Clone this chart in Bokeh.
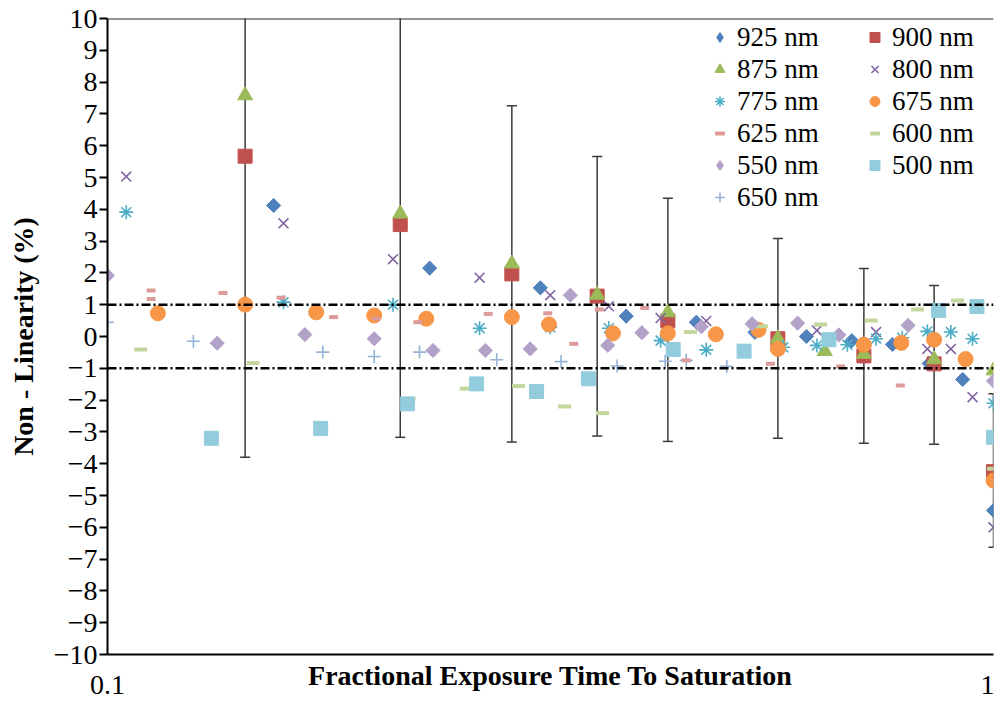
import numpy as np
from bokeh.plotting import figure
from bokeh.models import (Range1d, FixedTicker, Span, Legend, LegendItem,
                          CustomJSTickFormatter)
from bokeh.embed import file_html
from bokeh.resources import INLINE

# ---------------- data ----------------
y_ticks = list(range(-10, 11))
x_ticks = [0.1, 1.0]
limit_levels = [1.0, -1.0]

x925 = [0.154, 0.231, 0.308, 0.385, 0.462, 0.538, 0.615, 0.692, 0.769, 0.846, 0.923, 1.0]
y925 = [4.12, 2.15, 1.53, 0.64, 0.45, 0.13, 0.0, -0.13, -0.25, -0.85, -1.35, -5.47]

x900 = [0.143, 0.214, 0.286, 0.357, 0.429, 0.571, 0.714, 0.857, 1.0]
y900 = [5.67, 3.52, 1.97, 1.27, 0.49, -0.07, -0.61, -0.86, -4.25]
err900_upper = [15.2, 10.2, 7.26, 5.66, 4.35, 3.08, 2.14, 1.60, -1.80]
err900_lower = [-3.80, -3.17, -3.32, -3.13, -3.30, -3.20, -3.36, -3.39, -6.63]

x875 = [0.143, 0.214, 0.286, 0.357, 0.429, 0.571, 0.645, 0.714, 0.857, 1.0]
y875 = [7.58, 3.86, 2.29, 1.31, 0.76, -0.06, -0.46, -0.55, -0.72, -1.07]

x800 = [0.105, 0.158, 0.210, 0.263, 0.316, 0.368, 0.421, 0.474, 0.632, 0.737, 0.842, 0.895, 0.947, 1.0]
y800 = [5.03, 3.56, 2.43, 1.85, 1.30, 0.95, 0.58, 0.49, 0.19, 0.14, -0.39, -0.39, -1.91, -6.00]

x775 = [0.105, 0.158, 0.210, 0.263, 0.316, 0.368, 0.421, 0.474, 0.579, 0.632, 0.684, 0.737,
        0.789, 0.842, 0.895, 0.947, 1.0]
y775 = [3.91, 1.08, 1.00, 0.26, 0.29, 0.26, -0.13, -0.42, -0.34, -0.28, -0.26, -0.07,
        -0.04, 0.16, 0.14, -0.07, -2.10]

x675 = [0.114, 0.143, 0.172, 0.200, 0.229, 0.286, 0.315, 0.372, 0.429, 0.486, 0.543, 0.571,
        0.714, 0.787, 0.857, 0.930, 1.0]
y675 = [0.73, 1.00, 0.76, 0.66, 0.56, 0.61, 0.38, 0.10, 0.10, 0.07, 0.21, -0.39,
        -0.26, -0.20, -0.10, -0.71, -4.53]

x650 = [0.100, 0.125, 0.175, 0.200, 0.225, 0.275, 0.325, 0.376, 0.426, 0.450, 0.500]
y650 = [0.45, -0.15, -0.49, -0.63, -0.49, -0.73, -0.79, -0.93, -0.78, -0.75, -0.94]

x625 = [0.112, 0.112, 0.135, 0.157, 0.180, 0.201, 0.224, 0.269, 0.314, 0.336, 0.359, 0.404,
        0.450, 0.560, 0.672, 0.785]
y625 = [1.45, 1.18, 1.37, 1.22, 0.61, 0.56, 0.45, 0.71, 0.73, -0.23, 0.85, 0.90,
        -0.75, -0.86, -0.94, -1.54]

x600 = [0.109, 0.146, 0.219, 0.254, 0.291, 0.328, 0.362, 0.455, 0.547, 0.638, 0.728, 0.821, 0.911, 1.0]
y600 = [-0.41, -0.83, -1.96, -1.64, -1.56, -2.20, -2.41, 0.14, 0.32, 0.38, 0.50, 0.85, 1.13, -4.16]

x550 = [0.100, 0.133, 0.167, 0.200, 0.233, 0.267, 0.300, 0.333, 0.367, 0.401, 0.468, 0.534,
        0.601, 0.669, 0.801, 1.0]
y550 = [1.92, -0.21, 0.06, -0.07, -0.44, -0.44, -0.39, 1.30, -0.28, 0.12, 0.31, 0.40,
        0.42, 0.05, 0.35, -1.40]

x500 = [0.131, 0.174, 0.218, 0.261, 0.305, 0.349, 0.435, 0.523, 0.652, 0.867, 0.958, 1.0]
y500 = [-3.20, -2.89, -2.12, -1.49, -1.73, -1.33, -0.41, -0.46, -0.10, 0.82, 0.94, -3.17]

# ---------------- figure ----------------
FONT = "'Liberation Serif', 'Times New Roman', serif"

p = figure(width=994, height=703, x_axis_type="log",
           x_range=Range1d(0.1, 1.0), y_range=Range1d(-10, 10),
           output_backend="svg", toolbar_location=None,
           min_border_left=107, min_border_right=1, min_border_top=18, min_border_bottom=49,
           background_fill_color="white", border_fill_color="white")
p.outline_line_color = None
p.xgrid.visible = False
p.ygrid.visible = False

# y axis
yax = p.yaxis[0]
yax.ticker = FixedTicker(ticks=y_ticks)
yax.minor_tick_line_color = None
yax.major_tick_out = 8
yax.major_tick_in = 0
yax.major_tick_line_width = 2
yax.major_tick_line_color = "black"
yax.axis_line_width = 2
yax.axis_line_color = "black"
yax.major_label_text_font = FONT
yax.major_label_text_font_size = "28px"
yax.major_label_text_color = "black"
yax.major_label_standoff = 2
yax.axis_label = "Non - Linearity (%)"
yax.axis_label_text_font = FONT
yax.axis_label_text_font_style = "bold"
yax.axis_label_text_font_size = "28px"
yax.axis_label_text_color = "black"
yax.axis_label_standoff = 12

# x axis
xax = p.xaxis[0]
xax.ticker = FixedTicker(ticks=x_ticks, minor_ticks=[])
xax.formatter = CustomJSTickFormatter(code="return String(Number(tick.toPrecision(6)));")
xax.minor_tick_line_color = None
xax.major_tick_out = 0
xax.major_tick_in = 0
xax.axis_line_width = 2
xax.axis_line_color = "black"
xax.major_label_text_font = FONT
xax.major_label_text_font_size = "28px"
xax.major_label_text_color = "black"
xax.major_label_standoff = 21
xax.axis_label = "Fractional Exposure Time To Saturation"
xax.axis_label_text_font = FONT
xax.axis_label_text_font_style = "bold"
xax.axis_label_text_font_size = "28px"
xax.axis_label_text_color = "black"
xax.axis_label_standoff = -37

# top border
p.add_layout(Span(location=10, dimension="width", line_color="#262626", line_width=2))

# +/-1 % limit lines
for lv in limit_levels:
    p.add_layout(Span(location=lv, dimension="width", line_color="black",
                      line_width=2.5, line_dash="9 3 2 3"))

# error bars on the 900 nm series
EB = "#3a3a3a"
p.segment(x0=x900, y0=err900_lower, x1=x900, y1=err900_upper, line_color=EB, line_width=1.5)
p.scatter(x900, err900_upper, marker="dash", size=10, line_color=EB, line_width=1.5)
p.scatter(x900, err900_lower, marker="dash", size=10, line_color=EB, line_width=1.5)

c925, c900, c875, c800, c775, c675 = "#4F81BD", "#C0504D", "#9BBB59", "#8064A2", "#4BACC6", "#F79646"
c650, c625, c600, c550, c500 = "#95B3D7", "#DC9A98", "#C3D69B", "#B3A2C7", "#93CDDD"

r925 = p.scatter(x925, y925, marker="square", angle=np.pi / 4, size=10, fill_color=c925, line_color=c925)
r900 = p.scatter(x900, y900, marker="square", size=14, fill_color=c900, line_color=c900)
r875 = p.scatter(x875, y875, marker="triangle", size=15, fill_color=c875, line_color=c875)
r800 = p.scatter(x800, y800, marker="x", size=14, line_color=c800, line_width=1.6)
r775 = p.scatter(x775, y775, marker="asterisk", size=14, line_color=c775, line_width=1.6)
r675 = p.scatter(x675, y675, marker="circle", size=15, fill_color=c675, line_color=c675)
r650 = p.scatter(x650, y650, marker="cross", size=13, line_color=c650, line_width=1.6)
r625 = p.scatter(x625, y625, marker="dash", size=9, line_color=c625, line_width=4)
r600 = p.scatter(x600, y600, marker="dash", size=13, line_color=c600, line_width=4)
r550 = p.scatter(x550, y550, marker="square", angle=np.pi / 4, size=10, fill_color=c550, line_color=c550)
r500 = p.scatter(x500, y500, marker="square", size=14, fill_color=c500, line_color=c500)

# legend-only diamond glyphs (placed outside the visible range)
hidden_x = [0.01]
hidden_y = [100]
d925 = p.scatter(hidden_x, hidden_y, marker="diamond", size=14, fill_color=c925, line_color=c925)
d550 = p.scatter(hidden_x, hidden_y, marker="diamond", size=14, fill_color=c550, line_color=c550)

def make_legend(items, loc):
    lg = Legend(items=items, location=loc, orientation="vertical",
                border_line_color=None, background_fill_alpha=0,
                padding=0, margin=0, spacing=0,
                glyph_width=25, glyph_height=32, label_height=32,
                label_standoff=5,
                label_text_font=FONT, label_text_font_size="27px",
                label_text_color="black")
    return lg

leg1 = make_legend([
    LegendItem(label="925 nm", renderers=[d925]),
    LegendItem(label="875 nm", renderers=[r875]),
    LegendItem(label="775 nm", renderers=[r775]),
    LegendItem(label="625 nm", renderers=[r625]),
    LegendItem(label="550 nm", renderers=[d550]),
    LegendItem(label="650 nm", renderers=[r650]),
], (600, 441))
leg2 = make_legend([
    LegendItem(label="900 nm", renderers=[r900]),
    LegendItem(label="800 nm", renderers=[r800]),
    LegendItem(label="675 nm", renderers=[r675]),
    LegendItem(label="600 nm", renderers=[r600]),
    LegendItem(label="500 nm", renderers=[r500]),
], (755, 473))
p.add_layout(leg1)
p.add_layout(leg2)

open("out.html", "w").write(file_html(p, INLINE))
